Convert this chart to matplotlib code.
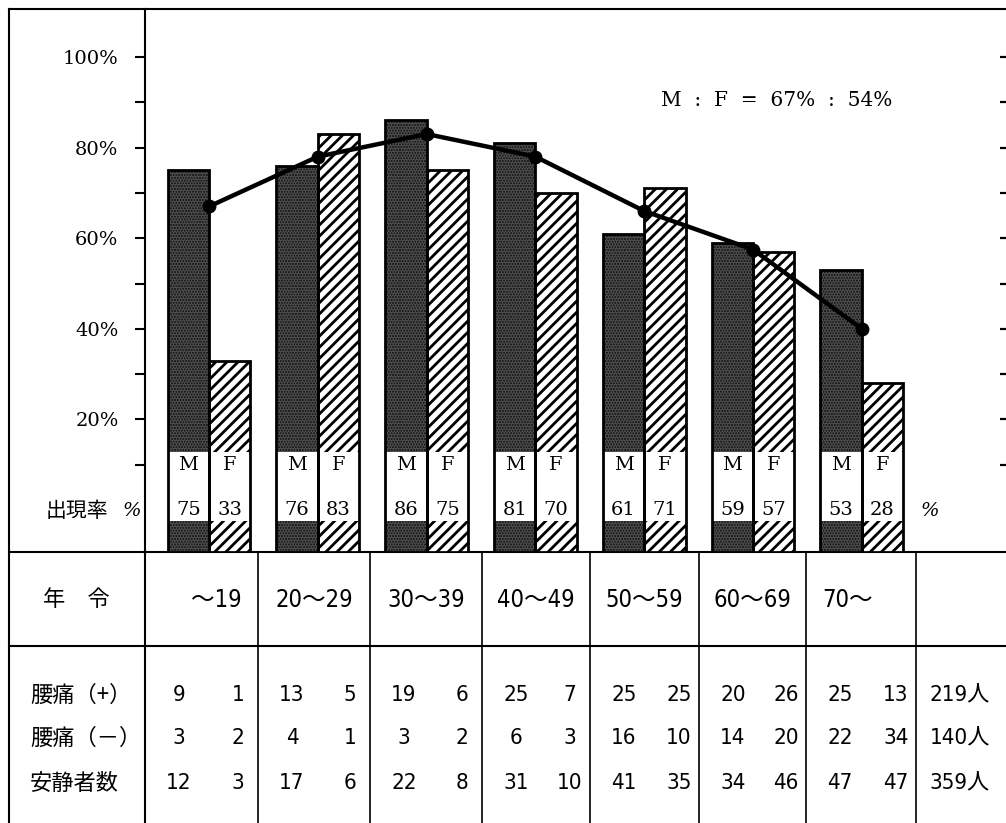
import matplotlib
matplotlib.use('Agg')
import matplotlib.pyplot as plt
import numpy as np

plt.rcParams['hatch.linewidth'] = 2.0

# age groups and rates (%)
ages = ['～19', '20～29', '30～39', '40～49', '50～59', '60～69', '70～']
male_rate = [75, 76, 86, 81, 61, 59, 53]
female_rate = [33, 83, 75, 70, 71, 57, 28]
total_rate = [67, 78, 83, 78, 66, 57.5, 40]
ratio_text = 'M  :  F  =  67%  :  54%'

# table below the chart
row_names = ['腰痛（+）', '腰痛（－）', '安静者数']
pain_pos_m = [9, 13, 19, 25, 25, 20, 25]
pain_pos_f = [1, 5, 6, 7, 25, 26, 13]
pain_neg_m = [3, 4, 3, 6, 16, 14, 22]
pain_neg_f = [2, 1, 2, 3, 10, 20, 34]
count_m = [12, 17, 22, 31, 41, 34, 47]
count_f = [3, 6, 8, 10, 35, 46, 47]
row_totals = ['219人', '140人', '359人']

SERIF = ['DejaVu Serif']
JP = ['Noto Sans CJK JP', 'DejaVu Sans']
NARROW = ['DejaVu Sans', 'Noto Sans CJK JP']

W, H = 1006, 823
fig = plt.figure(figsize=(W / 100, H / 100), dpi=100)

# frame axes, pixel units
fr = fig.add_axes([0, 0, 1, 1])
fr.set_xlim(0, W)
fr.set_ylim(H, 0)
fr.axis('off')

# chart axes
x0, x1, ytop, ybot = 145, 1006, 9, 552
zero_y, px_pct, grp0, grp = 510, 4.53, 209, 108.8
ax = fig.add_axes([x0 / W, 1 - ybot / H, (x1 - x0) / W, (ybot - ytop) / H])
ax.patch.set_visible(False)
ymin = (zero_y - ybot) / px_pct
ax.set_ylim(ymin, (zero_y - ytop) / px_pct)
ax.set_xlim(-(grp0 - x0) / grp, (x1 - grp0) / grp)
for s in ax.spines.values():
    s.set_visible(False)

x = np.arange(len(ages))
bw = 0.38
m = np.array(male_rate)
f = np.array(female_rate)

ax.bar(x - bw / 2, m - ymin, bottom=ymin, width=bw, color='#161616',
       edgecolor='#4c4c4c', hatch='......', linewidth=0, zorder=2)
ax.bar(x + bw / 2, f - ymin, bottom=ymin, width=bw, color='white',
       edgecolor='black', hatch='///', linewidth=0, zorder=2)

# white label boxes
box_lo, box_hi = -2.5, 12.8
ax.bar(x - bw / 2, box_hi - box_lo, bottom=box_lo, width=bw,
       color='white', linewidth=0, zorder=3)
ax.bar(x + bw / 2, box_hi - box_lo, bottom=box_lo, width=bw,
       color='white', linewidth=0, zorder=3)

# outlines
ax.bar(x - bw / 2, m - ymin, bottom=ymin, width=bw, fill=False,
       edgecolor='black', linewidth=2, zorder=4)
ax.bar(x + bw / 2, f - ymin, bottom=ymin, width=bw, fill=False,
       edgecolor='black', linewidth=2, zorder=4)

for i in range(len(ages)):
    ax.text(x[i] - bw / 2, 10, 'M', ha='center', va='center', fontsize=14,
            family=SERIF, zorder=5)
    ax.text(x[i] + bw / 2, 10, 'F', ha='center', va='center', fontsize=14,
            family=SERIF, zorder=5)
    ax.text(x[i] - bw / 2, 0, str(male_rate[i]), ha='center', va='center',
            fontsize=14, family=SERIF, zorder=5)
    ax.text(x[i] + bw / 2, 0, str(female_rate[i]), ha='center', va='center',
            fontsize=14, family=SERIF, zorder=5)

ax.plot(x, total_rate, '-o', color='black', lw=3.2, ms=9, zorder=6)

ax.set_xticks([])
ax.set_yticks([20, 40, 60, 80, 100])
ax.set_yticklabels(['20%', '40%', '60%', '80%', '100%'], family=SERIF, fontsize=14)
ax.set_yticks([10, 30, 50, 70, 90], minor=True)
ax.tick_params(axis='y', which='both', direction='out', length=7, width=1.5, pad=12)

ax2 = ax.twinx()
ax2.set_ylim(ax.get_ylim())
ax2.set_yticks(np.arange(10, 101, 10))
ax2.tick_params(axis='y', direction='in', length=4.5, width=1.6, labelright=False)
for s in ax2.spines.values():
    s.set_visible(False)

fr.text(77, 511, '出現率', ha='center', va='center', fontsize=15, family=JP)
fr.text(132, 511, '%', ha='center', va='center', fontsize=14, family=SERIF,
        style='italic')
fr.text(930, 511, '%', ha='center', va='center', fontsize=14, family=SERIF,
        style='italic')
fr.text(777, 100, ratio_text, ha='center', va='center', fontsize=14.5, family=SERIF)

# frame and table lines
lw = 1.5
fr.plot([9, W], [9, 9], color='black', lw=lw)
fr.plot([9, 9], [9, H], color='black', lw=lw)
fr.plot([145, 145], [9, H], color='black', lw=lw)
fr.plot([9, W], [552, 552], color='black', lw=lw)
fr.plot([9, W], [646, 646], color='black', lw=lw)
col_edges = [145, 258, 370, 482, 590, 699, 806, 916, 1006]
for ce in col_edges[1:-1]:
    fr.plot([ce, ce], [552, H], color='black', lw=1.2)

fr.text(76, 600, '年　令', ha='center', va='center', fontsize=16, family=JP)
for i, a in enumerate(ages):
    c0, c1 = col_edges[i], col_edges[i + 1]
    kw = dict(va='center', fontsize=17, family=NARROW, fontstretch='condensed')
    if i == 0:
        fr.text(c1 - 16, 600, a, ha='right', **kw)
    elif i == len(ages) - 1:
        fr.text(c0 + 16, 600, a, ha='left', **kw)
    else:
        fr.text((c0 + c1) / 2, 600, a, ha='center', **kw)

rows_y = [695, 738, 783]
rows = [(pain_pos_m, pain_pos_f), (pain_neg_m, pain_neg_f), (count_m, count_f)]
for r, (ry, (vm, vf)) in enumerate(zip(rows_y, rows)):
    fr.text(30, ry, row_names[r], ha='left', va='center', fontsize=16, family=JP)
    kw = dict(ha='center', va='center', fontsize=16, family=NARROW,
              fontstretch='condensed')
    for i in range(len(ages)):
        c0, c1 = col_edges[i], col_edges[i + 1]
        fr.text(c0 + 34, ry, str(vm[i]), **kw)
        fr.text(c1 - 20, ry, str(vf[i]), **kw)
    fr.text(960, ry, row_totals[r], **kw)

fig.savefig('out.png', dpi=100)
